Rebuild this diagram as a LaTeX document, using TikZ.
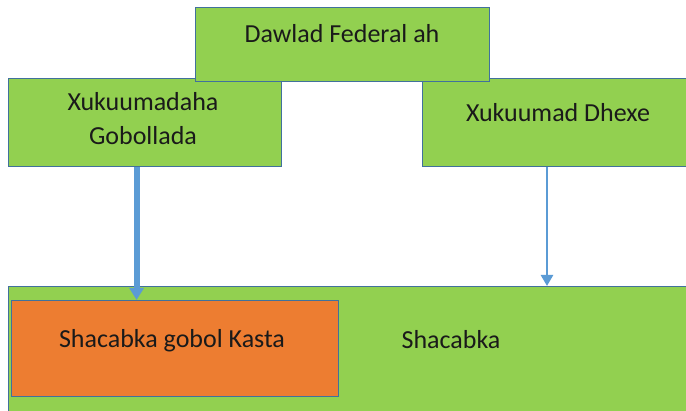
\documentclass[tikz,border=0pt]{standalone}
\usepackage{fontspec}
\setmainfont{Carlito}
\usetikzlibrary{arrows.meta}
\definecolor{boxgreen}{HTML}{92D050}
\definecolor{boxorange}{HTML}{ED7D31}
\definecolor{edgeblue}{HTML}{41719C}
\definecolor{linkblue}{HTML}{5B9BD5}
\definecolor{ink}{HTML}{1A1A1A}
\begin{document}
\begin{tikzpicture}[x=1pt,y=-1pt,
  box/.style={draw=edgeblue, line width=1.2pt, inner sep=0pt, anchor=north west},
  lbl/.style={font=\fontsize{26}{34}\selectfont, text=ink, inner sep=0pt, anchor=base, align=center},
  link/.style={draw=linkblue}]
\clip (0,0) rectangle (686,411);
\fill[white] (0,0) rectangle (686,411);
% population layer
\node[box, fill=boxgreen, minimum width=700pt, minimum height=200pt] (people) at (8,286) {};
\node[box, fill=boxorange, minimum width=327pt, minimum height=96pt] (local) at (11,300) {};
% government layer
\node[box, fill=boxgreen, minimum width=273pt, minimum height=88pt] (regional) at (8,78) {};
\node[box, fill=boxgreen, minimum width=300pt, minimum height=88pt] (central) at (422,78) {};
\node[box, fill=boxgreen, minimum width=294pt, minimum height=74pt] (federal) at (195,7) {};
% labels
\node[lbl] (fedtext) at (342,43) {Dawlad Federal ah};
\node[lbl] (regtext) at (143,145) {Xukuumadaha\\Gobollada};
\node[lbl] (centext) at (558,122) {Xukuumad Dhexe};
\node[lbl] (loctext) at (172,348) {Shacabka gobol Kasta};
\node[lbl] (peotext) at (451,349) {Shacabka};
% links
\draw[link, line width=6pt, -{Triangle[length=12pt,width=14pt]}]
  ([xshift=-8.5pt]regional.south) -- ([xshift=-8.5pt]regional.south |- local.north);
\draw[link, line width=2.5pt, -{Triangle[length=11pt,width=12pt]}]
  ([xshift=125pt]central.south west) -- ([xshift=125pt]central.south west |- people.north);
\end{tikzpicture}
\end{document}
